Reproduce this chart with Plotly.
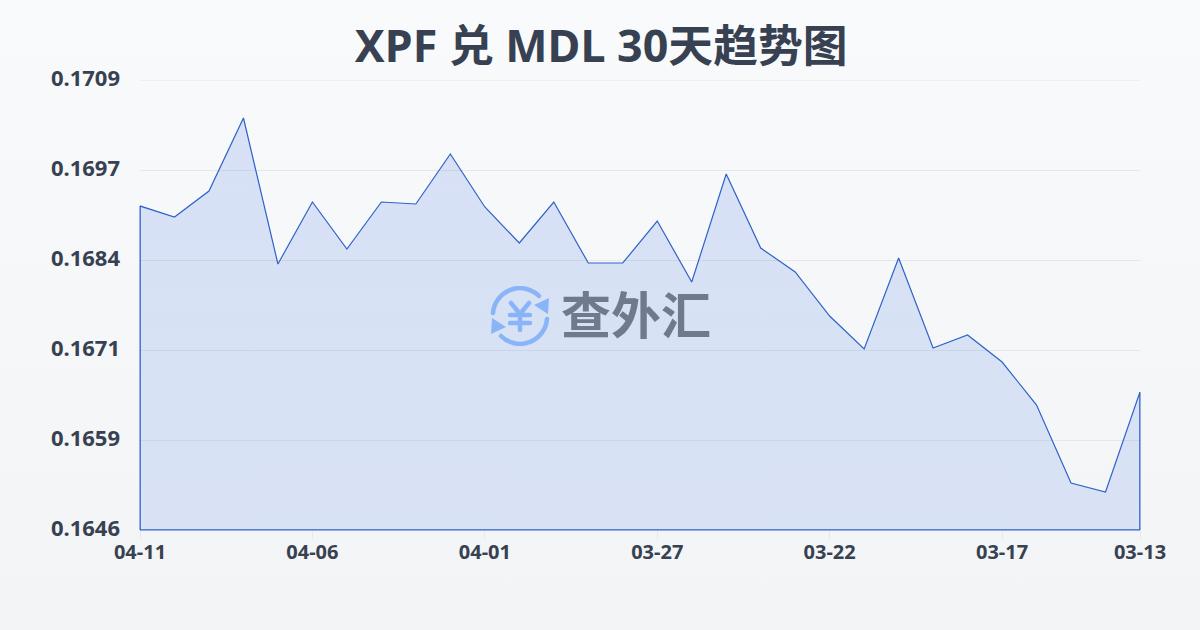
import base64
import plotly.graph_objects as go

dates = ["04-11","04-10","04-09","04-08","04-07","04-06","04-05","04-04","04-03","04-02",
         "04-01","03-31","03-30","03-29","03-28","03-27","03-26","03-25","03-24","03-23",
         "03-22","03-21","03-20","03-19","03-18","03-17","03-16","03-15","03-14","03-13"]
rates = [0.169136,0.168982,0.169346,0.170368,0.168324,0.169192,0.168534,0.169192,0.169164,0.169864,
         0.169122,0.168618,0.169192,0.168338,0.168338,0.168926,0.168072,0.169584,0.168548,0.168212,
         0.167596,0.167134,0.168408,0.167148,0.167330,0.166952,0.166350,0.165258,0.165132,0.166532]
x_ticks = ["04-11","04-06","04-01","03-27","03-22","03-17","03-13"]
y_ticks = [0.1709,0.16964,0.16838,0.16712,0.16586,0.1646]
y_labels = ["0.1709","0.1697","0.1684","0.1671","0.1659","0.1646"]
title_text = "XPF 兑 MDL 30天趋势图"
watermark = "查外汇"

FONT = "Noto Sans, Noto Sans CJK SC, sans-serif"
INK = "#374151"
LINE = "#2f62c8"
base = y_ticks[-1]

bg_svg = ('<svg xmlns="http://www.w3.org/2000/svg" width="1200" height="630">'
          '<defs><linearGradient id="g" x1="0" y1="0" x2="0" y2="1">'
          '<stop offset="0" stop-color="#f8fafc"/><stop offset="1" stop-color="#f3f4f6"/>'
          '</linearGradient></defs><rect width="1200" height="630" fill="url(#g)"/></svg>')
icon_svg = ('<svg xmlns="http://www.w3.org/2000/svg" viewBox="0 0 60 60" width="60" height="60">'
            '<g fill="none" stroke="#8ab4f8" stroke-width="4.5" stroke-linecap="round" stroke-linejoin="round">'
            '<path d="M3 27 A27 27 0 0 1 49 10"/><path d="M57 33 A27 27 0 0 1 11 50"/>'
            '<path d="M21 17 L30 28 L39 17 M30 28 V44 M20 29 H40 M20 37 H40"/></g>'
            '<g fill="#8ab4f8"><path d="M59 12 L58 28 L44 19 Z"/><path d="M1 48 L2 32 L16 41 Z"/></g></svg>')

def uri(svg):
    return "data:image/svg+xml;base64," + base64.b64encode(svg.encode()).decode()

def edge(**kw):
    return dict(type="line", line=dict(color=LINE, width=1), layer="above", **kw)

fig = go.Figure()
fig.add_trace(go.Scatter(
    x=[dates[0]] + dates + [dates[-1], dates[0]],
    y=[base] + rates + [base, base],
    mode="lines",
    line=dict(color=LINE, width=1.2),
    fill="toself",
    fillcolor="rgba(59,110,220,0.15)",
    fillgradient=dict(type="vertical", colorscale=[[0, "rgba(60,120,230,0.15)"], [1, "rgba(60,105,215,0.17)"]]),
    cliponaxis=False,
    hoverinfo="skip",
    showlegend=False,
))
fig.update_layout(
    width=1200, height=630,
    margin=dict(l=140, r=60, t=80, b=100),
    autosize=False,
    paper_bgcolor="#f6f7f9",
    plot_bgcolor="rgba(0,0,0,0)",
    font=dict(family=FONT, color=INK),
    title=dict(text=title_text, x=0.501, xanchor="center", y=0.927, yanchor="middle",
               font=dict(family=FONT, size=44.8, color=INK, weight="bold")),
    xaxis=dict(type="category", categoryorder="array", categoryarray=dates,
               range=[0, len(dates) - 1], tickmode="array", tickvals=x_ticks, ticktext=x_ticks,
               showgrid=False, zeroline=False, showline=False,
               ticks="outside", ticklen=8, tickwidth=1, tickcolor="#e5e7eb", ticklabelstandoff=-4,
               tickfont=dict(family=FONT, size=20, color=INK, weight="bold"), tickangle=0),
    yaxis=dict(range=[y_ticks[-1], y_ticks[0]], tickmode="array", tickvals=y_ticks, ticktext=y_labels,
               showgrid=True, gridcolor="#e5e7eb", gridwidth=1, zeroline=False, showline=False,
               ticks="", ticklabelstandoff=19, ticklabelshift=-2,
               tickfont=dict(family=FONT, size=22, color=INK, weight="bold")),
    shapes=[
        dict(type="line", xref="paper", x0=0, x1=1, yref="y", y0=y_ticks[0], y1=y_ticks[0],
             line=dict(color="#e5e7eb", width=1), layer="below"),
        edge(xref="paper", x0=0, x1=1, yref="paper", y0=0, y1=0),
        edge(xref="paper", x0=0, x1=0, yref="y", y0=base, y1=rates[0]),
        edge(xref="paper", x0=1, x1=1, yref="y", y0=base, y1=rates[-1]),
    ],
    images=[
        dict(source=uri(bg_svg), xref="paper", yref="paper", x=-140/1000, y=1+80/450,
             sizex=1200/1000, sizey=630/450, xanchor="left", yanchor="top", sizing="stretch", layer="below"),
        dict(source=uri(icon_svg), xref="paper", yref="paper", x=(490-140)/1000, y=1-(286-80)/450,
             sizex=60/1000, sizey=60/450, xanchor="left", yanchor="top", sizing="stretch", layer="above"),
    ],
    annotations=[dict(text=watermark, xref="paper", yref="paper", x=(636-140)/1000, y=1-(312-80)/450,
                      xanchor="center", yanchor="middle", showarrow=False,
                      font=dict(family="Noto Sans CJK SC", size=50, color="#6f7a8c", weight="bold"))],
)
fig.write_html("out.html", config={"displayModeBar": False},
               post_script="document.body.style.margin='0';document.documentElement.style.overflow='hidden';")
